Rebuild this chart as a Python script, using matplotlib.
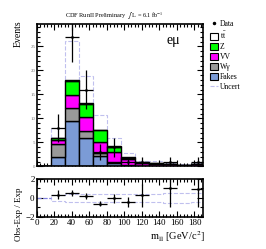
import numpy as np
import matplotlib.pyplot as plt
from matplotlib.patches import Patch
from matplotlib.lines import Line2D
from matplotlib.ticker import MultipleLocator

plt.rcParams['font.family'] = ['Liberation Serif', 'DejaVu Serif']
plt.rcParams['mathtext.fontset'] = 'stix'

# Binning: 16 GeV bins from 0 to 192
edges = np.arange(0, 193, 16)

# Observed events per bin
data = np.array([0, 8, 27, 16, 3, 4, 1, 1, 0, 1, 0, 1])

# Expected backgrounds per bin (stack order: bottom -> top)
fakes = np.array([0, 2.0, 9.5, 5.9, 2.2, 0.75, 0.2, 0.1, 0.05, 0.1, 0.05, 0.1])
wgam = np.array([0, 2.6, 2.6, 1.4, 0.5, 0.25, 0.05, 0.05, 0.0, 0.05, 0.0, 0.05])
vv = np.array([0, 0.9, 2.8, 2.9, 2.4, 2.0, 1.3, 0.45, 0.5, 0.25, 0.2, 0.28])
zjets = np.array([0, 0.4, 2.9, 2.9, 2.45, 1.1, 0.25, 0.15, 0.1, 0.05, 0.05, 0.05])
ttbar = np.array([0, 0.1, 0.1, 0.1, 0.1, 0.1, 0.1, 0.05, 0.1, 0.05, 0.0, 0.03])

# Total uncertainty on the expectation
unc = np.array([0, 2.0, 8.2, 5.7, 3.1, 1.7, 0.8, 0.35, 0.3, 0.25, 0.15, 0.25])

components = [fakes, wgam, vv, zjets, ttbar]
colors = ['#7b9bd6', '#999999', '#ff00ff', '#00ff00', 'white']
labels = ['Fakes', 'Wγ', 'VV', 'Z', r't$\bar{\rm t}$']
unc_color = '#c0c0ee'

centers = 0.5 * (edges[:-1] + edges[1:])
width = np.diff(edges)
expected = np.sum(components, axis=0)

fig = plt.figure(figsize=(2.66, 2.49), dpi=100)
ax = fig.add_axes([0.138, 0.332, 0.626, 0.572])
axr = fig.add_axes([0.138, 0.130, 0.626, 0.151])

# uncertainty boxes (drawn first, under the stack)
ax.bar(centers, 2 * unc, width=width, bottom=expected - unc, fill=False,
       edgecolor=unc_color, linestyle='--', linewidth=0.8, zorder=1)

bottom = np.zeros(len(centers))
for vals, col in zip(components, colors):
    ax.bar(centers, vals, width=width, bottom=bottom, color=col,
           edgecolor='black', linewidth=1.0, zorder=2)
    bottom += vals

mask = data > 0
ax.errorbar(centers[mask], data[mask], yerr=np.sqrt(data[mask]), xerr=width[mask] / 2,
            fmt='.', color='black', markersize=2, elinewidth=0.9, capsize=0, zorder=3)

ax.set_xlim(0, 190)
ax.set_ylim(0, 29.7)
ax.xaxis.set_major_locator(MultipleLocator(20))
ax.xaxis.set_minor_locator(MultipleLocator(4))
ax.yaxis.set_major_locator(MultipleLocator(5))
ax.yaxis.set_minor_locator(MultipleLocator(1))
ax.tick_params(which='both', direction='in', top=True, right=True, width=0.8)
ax.tick_params(which='major', length=4, labelsize=3.5, labelcolor='#777777', pad=1)
ax.tick_params(which='minor', length=2)
ax.tick_params(axis='x', labelbottom=False)
for s in ax.spines.values():
    s.set_linewidth(1.2)

ax.text(0.82, 0.86, 'eμ', transform=ax.transAxes, fontsize=10, ha='center')
fig.text(0.43, 0.935, r'CDF RunII Preliminary  $\int$ L = 6.1 fb$^{-1}$',
         fontsize=4.5, ha='center', va='center')
fig.text(0.07, 0.865, 'Events', rotation=90, fontsize=7, ha='center', va='center')

# ratio panel
rel = np.where(expected > 0, unc / np.where(expected > 0, expected, 1), 0)
axr.stairs(rel, edges, color=unc_color, linestyle='--', linewidth=0.8, baseline=None)
axr.stairs(-rel, edges, color=unc_color, linestyle='--', linewidth=0.8, baseline=None)
axr.axhline(0, xmin=0, xmax=16 / 190, color='#8080e0', linestyle='--', linewidth=0.8)

ratio = (data[mask] - expected[mask]) / expected[mask]
rerr = np.sqrt(data[mask]) / expected[mask]
axr.errorbar(centers[mask], ratio, yerr=rerr, xerr=width[mask] / 2, fmt='.',
             color='black', markersize=2, elinewidth=0.9, capsize=0)

axr.set_xlim(0, 190)
axr.set_ylim(-2, 2)
axr.xaxis.set_major_locator(MultipleLocator(20))
axr.xaxis.set_minor_locator(MultipleLocator(4))
axr.yaxis.set_major_locator(MultipleLocator(2))
axr.yaxis.set_minor_locator(MultipleLocator(1))
axr.tick_params(which='both', direction='in', top=True, right=True, width=0.8)
axr.tick_params(which='major', length=4, labelsize=6.5, pad=1.5)
axr.tick_params(which='minor', length=2)
for s in axr.spines.values():
    s.set_linewidth(1.2)

fig.text(0.07, 0.14, 'Obs-Exp / Exp', rotation=90, fontsize=6.5, ha='center', va='center')
fig.text(0.77, 0.05, r'm$_{\rm ll}$ [GeV/c$^{2}$]', fontsize=7.5, ha='right', va='center')

# legend
handles = [Line2D([], [], marker='.', color='black', linestyle='none', markersize=3)]
handles += [Patch(facecolor=c, edgecolor='black', linewidth=0.8) for c in colors[::-1]]
handles += [Line2D([], [], color=unc_color, linestyle='--', linewidth=0.8)]
leg_labels = ['Data'] + labels[::-1] + ['Uncert']
fig.legend(handles, leg_labels, loc='upper left', bbox_to_anchor=(0.775, 0.935),
           frameon=False, fontsize=5.5, handlelength=1.0, handleheight=1.0,
           handletextpad=0.3, labelspacing=0.25, borderpad=0)

fig.savefig('out.png', dpi=100)
